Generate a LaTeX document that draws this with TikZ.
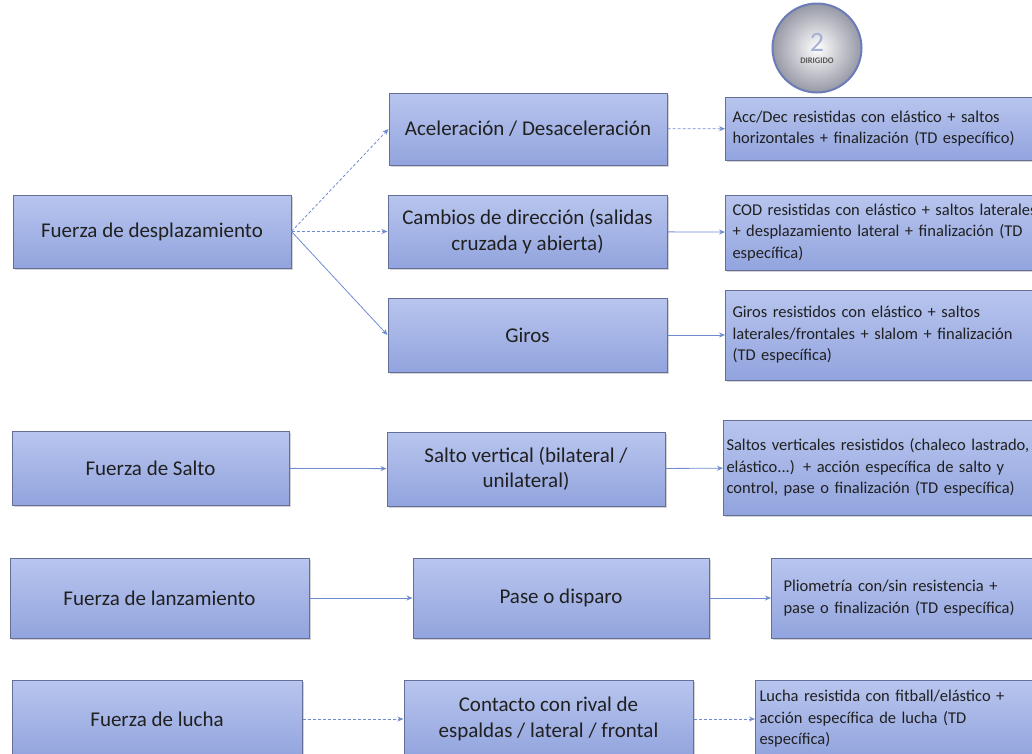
\documentclass[tikz,border=0pt]{standalone}
\usepackage{fontspec}
\setmainfont{Carlito}
\usetikzlibrary{arrows.meta, shadows}
\definecolor{boxtop}{RGB}{184,197,238}
\definecolor{boxbot}{RGB}{146,164,222}
\definecolor{boxline}{RGB}{100,110,150}
\definecolor{linkblue}{RGB}{112,140,208}
\definecolor{txt}{RGB}{32,32,32}
\definecolor{numgray}{RGB}{165,176,210}
\definecolor{ringblue}{RGB}{108,124,184}
\definecolor{ringgray}{RGB}{150,152,165}
\tikzset{%
	box/.style = { draw=boxline, line width=1pt, top color=boxtop, bottom color=boxbot,
		drop shadow={shadow xshift=1.5pt, shadow yshift=-1.5pt, opacity=0.35},
		text=txt, inner sep=0pt, align=center, font=\fontsize{21}{25.5}\selectfont },
	spec/.style = { box, anchor=west, align=left, inner xsep=7pt, text width=340pt,
		font=\fontsize{16.5}{21.5}\selectfont },
	link/.style = { draw=linkblue, line width=0.8pt, -{Stealth[length=6pt, width=5pt]} },
	dlink/.style = { link, densely dashed }
}

\begin{document}
\begin{tikzpicture}[x=1pt, y=-1pt]
	\clip (0,0) rectangle (1032,753);
	% modo
	\node[circle, minimum size=89pt, inner sep=0pt, draw=ringblue, line width=2pt,
		inner color=white, outer color=ringgray, align=center] (modo) at (817,48)
		{{\fontsize{28}{26}\selectfont\color{numgray}2}\\[0pt]{\fontsize{8.5}{9}\selectfont\bfseries\color{txt!75}DIRIGIDO}};
	% columna izquierda
	\node[box, minimum width=278pt, minimum height=73pt] (desp) at (152,231.5) {Fuerza de desplazamiento};
	\node[box, minimum width=277pt, minimum height=74pt] (salto) at (150.5,468) {Fuerza de Salto};
	\node[box, minimum width=299pt, minimum height=80pt] (lanz) at (159.5,598) {Fuerza de lanzamiento};
	\node[box, minimum width=290pt, minimum height=78pt] (lucha) at (157,719) {Fuerza de lucha};
	% columna central
	\node[box, minimum width=278pt, minimum height=72pt] (acel) at (528,129) {Aceleración / Desaceleración};
	\node[box, minimum width=279pt, minimum height=73pt] (cod) at (527.5,231.5) {Cambios de dirección (salidas\\cruzada y abierta)};
	\node[box, minimum width=279pt, minimum height=74pt] (giros) at (527.5,335) {Giros};
	\node[box, minimum width=278pt, minimum height=74pt] (svert) at (526,469) {Salto vertical (bilateral /\\unilateral)};
	\node[box, minimum width=296pt, minimum height=80pt] (pase) at (561,598) {\strut Pase o disparo};
	\node[box, minimum width=289pt, minimum height=78pt] (contacto) at (548.5,719) {Contacto con rival de\\espaldas / lateral / frontal};
	% columna derecha
	\node[spec, minimum height=63pt] (tacel) at (725,128.5) {Acc/Dec resistidas con elástico + saltos\\horizontales + finalización (TD específico)};
	\node[spec, minimum height=75pt] (tcod) at (725,232.5) {COD resistidas con elástico + saltos laterales\\+ desplazamiento lateral + finalización (TD\\específica)};
	\node[spec, minimum height=90pt] (tgiros) at (725,335) {Giros resistidos con elástico + saltos\\laterales/frontales + slalom + finalización\\(TD específica)};
	\node[spec, minimum height=95pt, inner xsep=3pt] (tsvert) at (723,467.5) {Saltos verticales resistidos (chaleco lastrado,\\elástico...) + acción específica de salto y\\control, pase o finalización (TD específica)};
	\node[spec, minimum height=80pt, inner xsep=12pt] (tpase) at (771,598) {Pliometría con/sin resistencia +\\pase o finalización (TD específica)};
	\node[spec, minimum height=78pt, inner xsep=4pt] (tcontacto) at (755,719) {Lucha resistida con fitball/elástico +\\acción específica de lucha (TD\\específica)};
	% conexiones
	\draw[dlink] (desp.east) -- (acel.west);
	\draw[dlink] (desp.east) -- (cod.west);
	\draw[link] (desp.east) -- (giros.west);
	\draw[link] (salto) -- (svert);
	\draw[link] (lanz) -- (pase);
	\draw[dlink] (lucha) -- (contacto);
	\draw[dlink] (acel) -- (tacel);
	\draw[link] (cod) -- (tcod);
	\draw[link] (giros) -- (tgiros);
	\draw[link] (svert) -- (tsvert);
	\draw[link] (pase) -- (tpase);
	\draw[dlink] (contacto) -- (tcontacto);
\end{tikzpicture}
\end{document}
